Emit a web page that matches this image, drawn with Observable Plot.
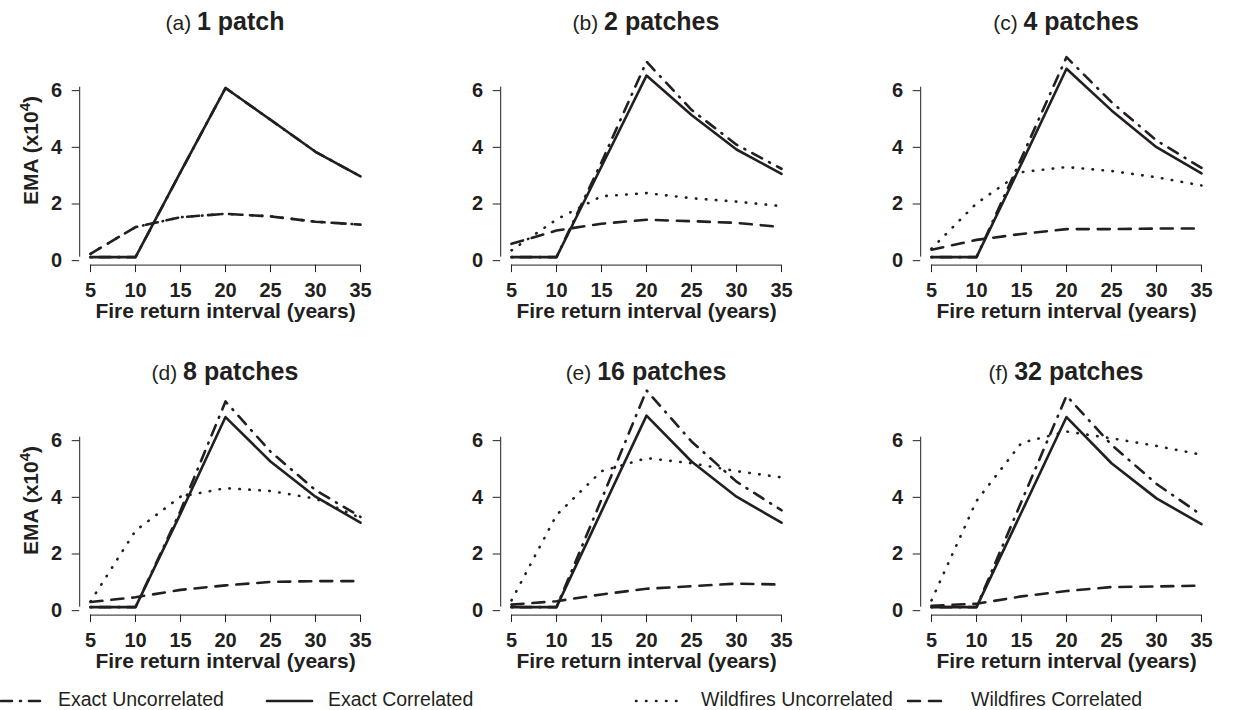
<!DOCTYPE html>
<html>
<head>
<meta charset="utf-8">
<script src="https://cdn.jsdelivr.net/npm/d3@7"></script>
<script src="https://cdn.jsdelivr.net/npm/@observablehq/plot@0.6"></script>
<style>
  html, body { margin: 0; padding: 0; background: #fff; }
  #root { position: relative; width: 1247px; height: 710px; overflow: hidden; background: #fff;
          font-family: "Liberation Sans", Arial, sans-serif; color: #231f20; }
  .panel { position: absolute; width: 420px; height: 340px; }
  .legend { position: absolute; left: 0; top: 680px; }
</style>
</head>
<body>
<div id="root"></div>
<script>
// ---------------- data ----------------
const xValues = [5, 10, 15, 20, 25, 30, 35];
const yTicks = [0, 2, 4, 6];
const panelLetters = ["(a)", "(b)", "(c)", "(d)", "(e)", "(f)"];
const panelNames = ["1 patch", "2 patches", "4 patches", "8 patches", "16 patches", "32 patches"];
const seriesNames = ["Exact Uncorrelated", "Exact Correlated", "Wildfires Uncorrelated", "Wildfires Correlated"];
const xLabel = "Fire return interval (years)";

// one row per panel (a)..(f), values at xValues, EMA in units of 10^4
const exactUncorrelated = [
  [0, 0, 3.0, 5.97, 4.85, 3.72, 2.85],
  [0, 0, 3.35, 6.9, 5.2, 3.97, 3.12],
  [0, 0, 3.5, 7.06, 5.47, 4.12, 3.15],
  [0, 0, 3.4, 7.26, 5.49, 4.13, 3.19],
  [0, 0, 3.8, 7.65, 5.85, 4.43, 3.42],
  [0, 0, 3.73, 7.46, 5.73, 4.35, 3.25]
];
const exactCorrelated = [
  [0, 0, 3.0, 5.97, 4.85, 3.72, 2.85],
  [0, 0, 3.2, 6.41, 5.02, 3.8, 2.94],
  [0, 0, 3.3, 6.65, 5.18, 3.88, 2.96],
  [0, 0, 3.3, 6.71, 5.14, 3.9, 2.98],
  [0, 0, 3.38, 6.76, 5.14, 3.9, 2.98],
  [0, 0, 3.35, 6.71, 5.08, 3.84, 2.93]
];
const wildfiresUncorrelated = [
  [0.12, 1.06, 1.41, 1.53, 1.44, 1.25, 1.15],
  [0.24, 1.33, 2.15, 2.26, 2.08, 1.96, 1.8],
  [0.3, 1.9, 3.0, 3.18, 3.04, 2.82, 2.53],
  [0.2, 2.7, 3.9, 4.2, 4.1, 3.83, 3.15],
  [0.24, 3.25, 4.8, 5.26, 5.08, 4.8, 4.58],
  [0.24, 3.75, 5.8, 6.2, 5.96, 5.69, 5.38]
];
const wildfiresCorrelated = [
  [0.12, 1.06, 1.41, 1.53, 1.44, 1.25, 1.15],
  [0.47, 0.94, 1.18, 1.32, 1.27, 1.21, 1.06],
  [0.26, 0.61, 0.82, 0.99, 0.99, 1.01, 1.01],
  [0.18, 0.35, 0.61, 0.77, 0.89, 0.92, 0.92],
  [0.09, 0.21, 0.45, 0.65, 0.74, 0.83, 0.8],
  [0.05, 0.12, 0.38, 0.57, 0.71, 0.73, 0.76]
];
const seriesValues = [exactUncorrelated, exactCorrelated, wildfiresUncorrelated, wildfiresCorrelated];

// ---------------- styles ----------------
const ink = "#231f20";
const font = "'Liberation Sans', Arial, sans-serif";
const dashes = ["1,8,11,8", null, "0.5,9.5", "12,9"];
const caps = ["round", "round", "round", "round"];
const lineWidth = 2.6;

const W = 420, H = 340;
const mL = 79.2, mR = W - 370.8, mT = 50.4, mB = H - 264.6;
const xDomain = [3.8, 36.2];
const yDomain = [-0.28, 7.28];

const root = document.getElementById("root");

panelNames.forEach((name, p) => {
  const col = p % 3, row = Math.floor(p / 3);
  const rows = [];
  seriesNames.forEach((s, k) => {
    xValues.forEach((x, i) => rows.push({series: s, k, x, y: seriesValues[k][p][i]}));
  });

  const marks = [
    Plot.ruleY([yDomain[0]], {x1: xValues[0], x2: xValues[xValues.length - 1], stroke: ink, strokeWidth: 1}),
    Plot.ruleX([xDomain[0]], {y1: yTicks[0], y2: yTicks[yTicks.length - 1], stroke: ink, strokeWidth: 1}),
    Plot.axisX({ticks: xValues, tickSize: 7.5, tickPadding: 10, tickFormat: d => String(d), label: null,
                fontSize: 20, fontWeight: "bold", stroke: ink, fill: ink}),
    Plot.axisY({ticks: yTicks, tickSize: 7.5, tickPadding: 10, tickFormat: d => String(d), label: null,
                fontSize: 20, fontWeight: "bold", dy: 3.5, stroke: ink, fill: ink}),
    Plot.text([xLabel], {frameAnchor: "bottom", lineAnchor: "bottom", dy: 53.2,
                         fontSize: 21, fontWeight: "bold", fill: ink})
  ];
  seriesNames.forEach((s, k) => {
    marks.push(Plot.line(rows.filter(d => d.k === k), {
      x: "x", y: "y", stroke: ink, strokeWidth: lineWidth,
      strokeDasharray: dashes[k], strokeLinecap: caps[k], strokeLinejoin: "round"
    }));
  });

  const svg = Plot.plot({
    width: W, height: H,
    marginLeft: mL, marginRight: mR, marginTop: mT, marginBottom: mB,
    x: {domain: xDomain, label: null},
    y: {domain: yDomain, label: null},
    style: {fontFamily: font, color: ink, background: "transparent", overflow: "visible"},
    marks
  });

  const sel = d3.select(svg);
  const cx = (mL + (W - mR)) / 2;
  const t = sel.append("text").attr("x", cx).attr("y", 30).attr("text-anchor", "middle")
    .attr("fill", ink).attr("font-family", font);
  t.append("tspan").attr("font-size", 21).attr("font-weight", "normal").text(panelLetters[p] + " ");
  t.append("tspan").attr("font-size", 25).attr("font-weight", "bold").text(name);

  if (col === 0) {
    const cy = (mT + (H - mB)) / 2 - 7;
    const yl = sel.append("text").attr("transform", `translate(38,${cy}) rotate(-90)`)
      .attr("text-anchor", "middle").attr("fill", ink).attr("font-family", font)
      .attr("font-size", 21).attr("font-weight", "bold");
    yl.append("tspan").text("EMA (x10");
    yl.append("tspan").attr("font-size", 15).attr("dy", -8).text("4");
    yl.append("tspan").attr("dy", 8).text(")");
  }

  const div = document.createElement("div");
  div.className = "panel";
  div.style.left = (col * 420.5) + "px";
  div.style.top = (row * 350) + "px";
  div.appendChild(svg);
  root.appendChild(div);
});

// ---------------- legend ----------------
const legendItems = [
  {x1: -8, x2: 40, tx: 58},
  {x1: 267, x2: 312, tx: 328},
  {x1: 636, x2: 680, tx: 701},
  {x1: 908, x2: 950, tx: 971}
];
const lg = d3.create("svg").attr("width", 1247).attr("height", 30).attr("class", "legend")
  .style("overflow", "visible");
seriesNames.forEach((s, k) => {
  const it = legendItems[k];
  lg.append("line").attr("x1", it.x1).attr("x2", it.x2).attr("y1", 21).attr("y2", 21)
    .attr("stroke", ink).attr("stroke-width", lineWidth)
    .attr("stroke-dasharray", dashes[k]).attr("stroke-linecap", caps[k]);
  lg.append("text").attr("x", it.tx).attr("y", 26).attr("fill", ink)
    .attr("font-family", font).attr("font-size", 19.5).text(s);
});
root.appendChild(lg.node());
</script>
</body>
</html>
